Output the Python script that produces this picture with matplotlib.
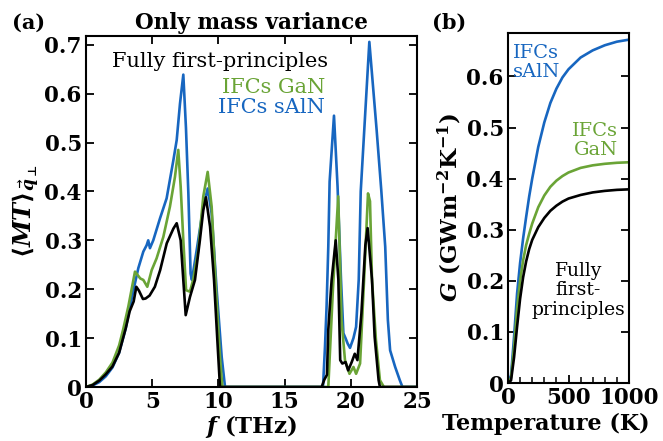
import numpy as np
import matplotlib
matplotlib.use('Agg')
import matplotlib.pyplot as plt
from matplotlib.ticker import MultipleLocator

plt.rcParams['font.family'] = 'DejaVu Serif'
plt.rcParams['font.weight'] = 'bold'
plt.rcParams['axes.titleweight'] = 'bold'
plt.rcParams['axes.labelweight'] = 'bold'
plt.rcParams['mathtext.fontset'] = 'dejavuserif'

# ---- panel (a): spectral mass-variance transmission ----
f_fp = [0, 0.5, 1, 1.5, 2, 2.5, 3, 3.3, 3.6, 3.8, 4.0, 4.3, 4.5, 4.8, 5.2, 5.6, 6.1, 6.6, 6.85,
        7.15, 7.35, 7.53, 7.85, 8.23, 8.6, 8.86, 9.06, 9.37, 9.67, 9.92, 10.12,
        17.8, 18.0, 18.2, 18.3, 18.55, 18.86, 19.06, 19.2, 19.36, 19.6, 19.8, 20.07, 20.3, 20.5,
        20.8, 21.1, 21.27, 21.6, 21.8, 22.1, 22.2, 25]
mt_fp = [0, 0.004, 0.013, 0.026, 0.042, 0.07, 0.12, 0.155, 0.175, 0.205, 0.197, 0.18, 0.181, 0.187,
         0.205, 0.239, 0.294, 0.324, 0.335, 0.30, 0.219, 0.147, 0.184, 0.219, 0.30, 0.362, 0.388,
         0.328, 0.219, 0.096, 0,
         0, 0.015, 0.025, 0.117, 0.218, 0.30, 0.22, 0.055, 0.048, 0.051, 0.034, 0.051, 0.068, 0.055,
         0.15, 0.29, 0.325, 0.22, 0.103, 0.014, 0, 0]

f_gan = [0, 0.5, 1, 1.5, 2, 2.5, 2.8, 3.2, 3.7, 4.1, 4.33, 4.63, 4.96, 5.33, 5.84, 6.34, 6.72, 6.97,
         7.15, 7.35, 7.56, 7.85, 8.1, 8.48, 8.86, 9.19, 9.49, 9.82, 10.12, 10.3,
         18.3, 18.65, 19.05, 19.3, 19.56, 19.9, 20.2, 20.4, 20.7, 21.0, 21.3, 21.45, 21.6, 21.9,
         22.2, 22.5, 25]
mt_gan = [0, 0.005, 0.015, 0.03, 0.05, 0.085, 0.117, 0.165, 0.236, 0.222, 0.219, 0.205, 0.239, 0.263,
          0.307, 0.369, 0.43, 0.485, 0.41, 0.30, 0.198, 0.195, 0.22, 0.28, 0.39, 0.44, 0.369, 0.198,
          0.061, 0,
          0, 0.2, 0.39, 0.136, 0.055, 0.027, 0.041, 0.027, 0.048, 0.218, 0.396, 0.38, 0.22, 0.096,
          0.014, 0, 0]

f_saln = [0, 0.5, 1, 1.5, 2, 2.5, 3, 3.32, 3.6, 3.95, 4.33, 4.58, 4.7, 4.83, 5.08, 5.59, 6.09, 6.6,
          6.85, 7.1, 7.35, 7.55, 7.73, 7.9, 8.0, 8.36, 8.86, 9.19, 9.49, 9.87, 10.25, 10.5,
          17.9, 18.05, 18.17, 18.3, 18.4, 18.73, 19.0, 19.26, 19.44, 19.6, 19.76, 19.94, 20.2, 20.4,
          20.6, 20.75, 21.4, 21.95, 22.3, 22.6, 22.8, 22.97, 23.35, 23.7, 23.9, 25]
mt_saln = [0, 0.003, 0.01, 0.022, 0.04, 0.07, 0.12, 0.164, 0.2, 0.243, 0.277, 0.29, 0.30, 0.284, 0.30,
           0.345, 0.386, 0.464, 0.505, 0.58, 0.639, 0.53, 0.397, 0.232, 0.219, 0.28, 0.369, 0.406,
           0.355, 0.198, 0.061, 0,
           0, 0.082, 0.164, 0.287, 0.42, 0.555, 0.41, 0.22, 0.11, 0.10, 0.089, 0.08, 0.10, 0.123,
           0.22, 0.40, 0.706, 0.526, 0.403, 0.287, 0.137, 0.075, 0.041, 0.014, 0, 0]

# ---- panel (b): conductance vs temperature ----
temp = [0, 25, 50, 75, 100, 125, 150, 175, 200, 250, 300, 350, 400, 450, 500, 600, 700, 800, 900, 1000]
g_fp = [0, 0.005, 0.05, 0.11, 0.165, 0.207, 0.238, 0.262, 0.28, 0.305, 0.323, 0.337, 0.347, 0.355,
        0.361, 0.368, 0.373, 0.376, 0.378, 0.379]
g_gan = [0, 0.01, 0.07, 0.145, 0.2, 0.24, 0.27, 0.292, 0.312, 0.344, 0.367, 0.384, 0.396, 0.405,
         0.412, 0.421, 0.426, 0.429, 0.431, 0.432]
g_saln = [0, 0.015, 0.09, 0.175, 0.235, 0.283, 0.325, 0.365, 0.40, 0.462, 0.51, 0.548, 0.576, 0.598,
          0.614, 0.637, 0.651, 0.661, 0.668, 0.672]

xt_a = [0, 5, 10, 15, 20, 25]
yt_a = [0, 0.1, 0.2, 0.3, 0.4, 0.5, 0.6, 0.7]
yl_a = ['0', '0.1', '0.2', '0.3', '0.4', '0.5', '0.6', '0.7']
xt_b = [0, 500, 1000]
yt_b = [0, 0.1, 0.2, 0.3, 0.4, 0.5, 0.6]
yl_b = ['0', '0.1', '0.2', '0.3', '0.4', '0.5', '0.6']

c_fp = 'black'
c_gan = '#6aa436'
c_saln = '#1766c0'
lw = 1.9
fs_tick = 15.5
fs_txt = 15
fs_lab = 16.5

fig = plt.figure(figsize=(6.63, 4.41), dpi=100)

ax = fig.add_axes([86/663, 54/441, 331/663, 351/441])
ax.plot(f_saln, mt_saln, color=c_saln, lw=lw)
ax.plot(f_gan, mt_gan, color=c_gan, lw=lw)
ax.plot(f_fp, mt_fp, color=c_fp, lw=lw)
ax.set_xlim(0, 25)
ax.set_ylim(0, 0.718)
ax.set_xticks(xt_a)
ax.set_xticklabels([str(v) for v in xt_a])
ax.set_yticks(yt_a)
ax.set_yticklabels(yl_a)
ax.tick_params(direction='in', top=True, right=True, length=6, width=1.3, labelsize=fs_tick, pad=3)
for s in ax.spines.values():
    s.set_linewidth(1.5)
ax.set_xlabel(r'$\boldsymbol{f}$ (THz)', fontsize=fs_lab, labelpad=0)
ax.set_ylabel(r'$\langle \boldsymbol{MT}\rangle_{\vec{q}_{\bot}}$', fontsize=17.5, labelpad=2)
ax.set_title('Only mass variance', fontsize=15.5, pad=5)
ax.text(0.079, 0.9125, 'Fully first-principles', transform=ax.transAxes, fontweight='normal',
        fontsize=fs_txt, color=c_fp, ha='left', va='baseline')
ax.text(0.722, 0.838, 'IFCs GaN', transform=ax.transAxes, fontweight='normal',
        fontsize=fs_txt, color=c_gan, ha='right', va='baseline')
ax.text(0.722, 0.781, 'IFCs sAlN', transform=ax.transAxes, fontweight='normal',
        fontsize=fs_txt, color=c_saln, ha='right', va='baseline')

bx = fig.add_axes([508/663, 58/441, 121/663, 350/441])
bx.plot(temp, g_saln, color=c_saln, lw=lw)
bx.plot(temp, g_gan, color=c_gan, lw=lw)
bx.plot(temp, g_fp, color=c_fp, lw=lw)
bx.set_xlim(0, 1000)
bx.set_ylim(0, 0.685)
bx.set_xticks(xt_b)
bx.set_xticklabels([str(v) for v in xt_b])
bx.xaxis.set_minor_locator(MultipleLocator(100))
bx.set_yticks(yt_b)
bx.set_yticklabels(yl_b)
bx.tick_params(which='major', direction='in', right=True, length=6, width=1.3, labelsize=fs_tick, pad=3)
bx.tick_params(which='minor', direction='in', length=4, width=1.1)
for s in bx.spines.values():
    s.set_linewidth(1.5)
bx.set_xlabel('Temperature (K)', fontsize=16, labelpad=0)
bx.xaxis.set_label_coords(0.31, -0.085)
bx.set_ylabel(r'$\boldsymbol{G}$ (GWm$^{\mathbf{-2}}$K$^{\mathbf{-1}}$)', fontsize=fs_lab, labelpad=2)
bx.text(0.041, 0.969, 'IFCs\nsAlN', transform=bx.transAxes, fontweight='normal', fontsize=14,
        color=c_saln, ha='left', va='top', linespacing=1.1)
bx.text(0.909, 0.746, 'IFCs\nGaN', transform=bx.transAxes, fontweight='normal', fontsize=14,
        color=c_gan, ha='right', va='top', multialignment='right', linespacing=1.1)
bx.text(0.58, 0.346, 'Fully\nfirst-\nprinciples', transform=bx.transAxes, fontweight='normal',
        fontsize=13.5, color=c_fp, ha='center', va='top', multialignment='center', linespacing=1.1)

fig.text(12/663, 1 - 23/441, '(a)', fontsize=15, ha='left', va='center')
fig.text(432/663, 1 - 23/441, '(b)', fontsize=15, ha='left', va='center')

fig.savefig('out.png', dpi=100)
